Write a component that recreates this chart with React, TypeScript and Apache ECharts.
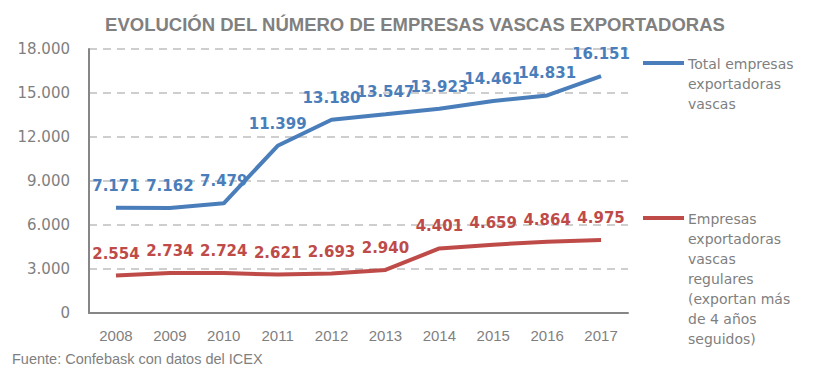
import React, { useEffect, useRef } from "react";
import * as echarts from "echarts";

const years = ["2008", "2009", "2010", "2011", "2012", "2013", "2014", "2015", "2016", "2017"];
const totalValues = [7171, 7162, 7479, 11399, 13180, 13547, 13923, 14461, 14831, 16151];
const regularValues = [2554, 2734, 2724, 2621, 2693, 2940, 4401, 4659, 4864, 4975];
const totalName = "Total empresas\nexportadoras\nvascas";
const regularName = "Empresas\nexportadoras\nvascas\nregulares\n(exportan más\nde 4 años\nseguidos)";
const titleText = "EVOLUCIÓN DEL NÚMERO DE EMPRESAS VASCAS EXPORTADORAS";
const sourceText = "Fuente: Confebask con datos del ICEX";

const BLUE = "#4a7ebb";
const RED = "#be4b48";
const GRAY = "#7f7f7f";
const fmt = (v: number) => {
  const s = String(Math.round(v));
  return s.replace(/\B(?=(\d{3})+(?!\d))/g, ".");
};

export default function App() {
  const ref = useRef<HTMLDivElement>(null);
  useEffect(() => {
    if (!ref.current) return;
    const chart = echarts.init(ref.current, null, { renderer: "svg" });
    const labelStyle = (color: string) => ({
      show: true,
      position: "top" as const,
      distance: 14,
      color,
      opacity: 1,
      fontFamily: "DejaVu Sans",
      fontWeight: "bold" as const,
      fontSize: 15,
      formatter: (p: any) => fmt(p.value),
    });
    chart.setOption({
      animation: false,
      backgroundColor: "#ffffff",
      title: {
        text: titleText,
        left: 410,
        textAlign: "center",
        top: 10,
        textStyle: {
          fontFamily: "Liberation Sans Narrow, Arial Narrow, sans-serif",
          fontWeight: "bold",
          fontSize: 18.5,
          color: "#808080",
        },
      },
      grid: { left: 89, right: 194, top: 49, bottom: 57, containLabel: false },
      xAxis: {
        type: "category",
        data: years,
        boundaryGap: true,
        axisLine: { lineStyle: { color: "#868686", width: 2 } },
        axisTick: { show: false },
        axisLabel: {
          color: GRAY,
          fontFamily: "Liberation Sans Narrow, Arial Narrow, sans-serif",
          fontSize: 15,
          margin: 15,
        },
      },
      yAxis: {
        type: "value",
        min: 0,
        max: 18000,
        interval: 3000,
        axisLine: { show: true, lineStyle: { color: "#868686", width: 2 } },
        axisTick: { show: false },
        axisLabel: {
          color: GRAY,
          fontFamily: "DejaVu Sans",
          fontSize: 15,
          margin: 19,
          formatter: (v: number) => fmt(v),
        },
        splitLine: {
          show: true,
          lineStyle: { color: "#bfbfbf", width: 1.5, type: [8, 6] },
        },
      },
      series: [
        {
          name: totalName,
          type: "line",
          data: totalValues,
          symbol: "circle",
          symbolSize: 1,
          showSymbol: true,
          itemStyle: { color: "rgba(0,0,0,0)" },
          lineStyle: { color: BLUE, width: 4 },
          label: labelStyle(BLUE),
          z: 3,
        },
        {
          name: regularName,
          type: "line",
          data: regularValues,
          symbol: "circle",
          symbolSize: 1,
          showSymbol: true,
          itemStyle: { color: "rgba(0,0,0,0)" },
          lineStyle: { color: RED, width: 4 },
          label: labelStyle(RED),
          z: 3,
        },
      ],
      graphic: [
        { type: "line", shape: { x1: 643, y1: 63, x2: 684, y2: 63 }, style: { stroke: BLUE, lineWidth: 4 } },
        {
          type: "text",
          x: 688,
          y: 54,
          style: { text: totalName, fill: GRAY, font: "14px 'DejaVu Sans'", lineHeight: 20 },
        },
        { type: "line", shape: { x1: 643, y1: 218, x2: 684, y2: 218 }, style: { stroke: RED, lineWidth: 4 } },
        {
          type: "text",
          x: 688,
          y: 209,
          style: { text: regularName, fill: GRAY, font: "14px 'DejaVu Sans'", lineHeight: 20 },
        },
        {
          type: "text",
          x: 12,
          y: 359,
          style: {
            text: sourceText,
            fill: GRAY,
            verticalAlign: "middle",
            font: "14.5px 'Liberation Sans Narrow', 'Arial Narrow', sans-serif",
          },
        },
      ],
    });
    return () => chart.dispose();
  }, []);
  return (
    <div
      ref={ref}
      style={{ position: "absolute", left: 0, top: 0, width: 822, height: 370 }}
    />
  );
}
